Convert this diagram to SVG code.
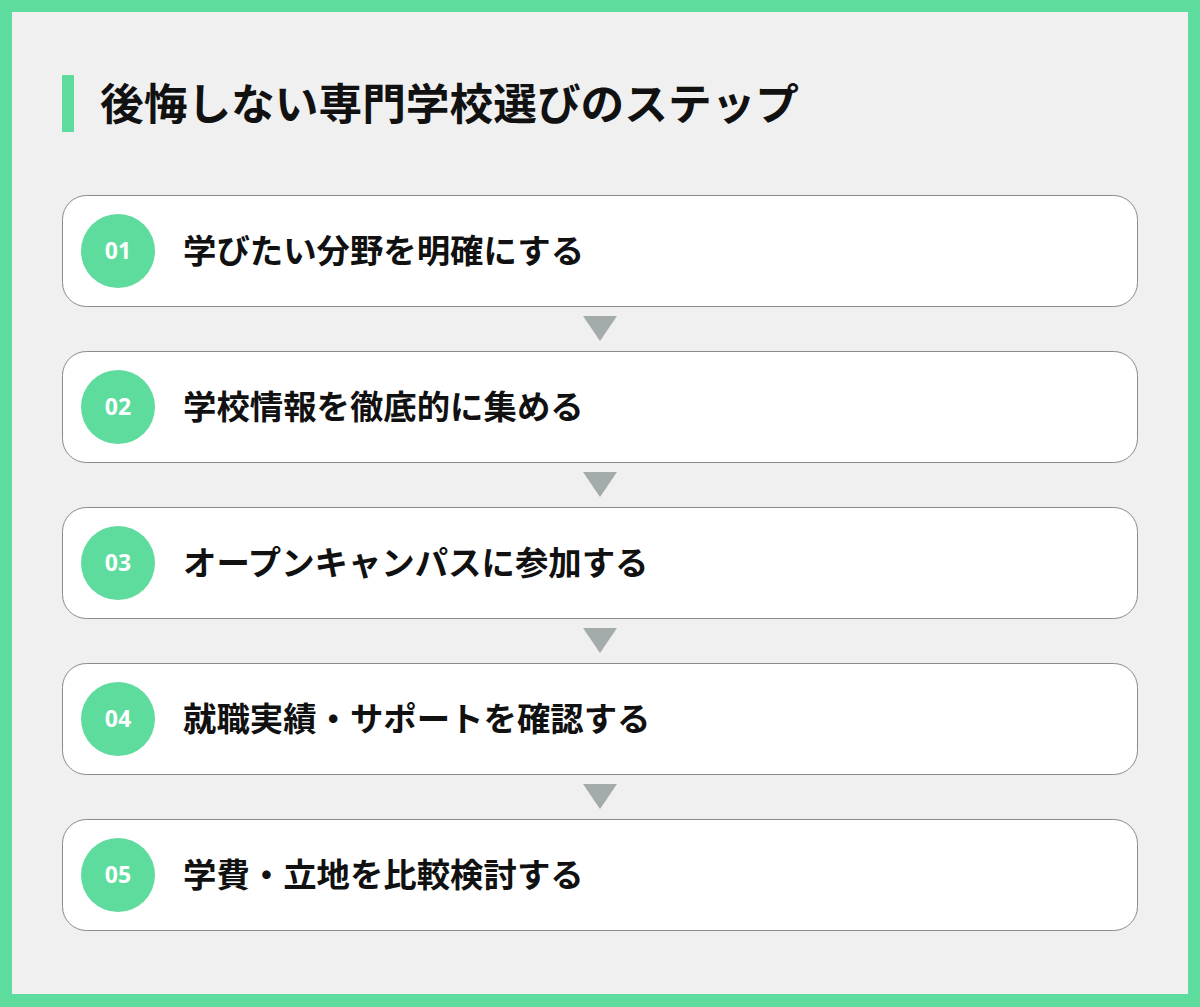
<svg xmlns="http://www.w3.org/2000/svg" width="1200" height="1007" viewBox="0 0 1200 1007">
<style>
.card{fill:#ffffff;stroke:#8a8a8a;stroke-width:1}
.dot{fill:#5edc9e}
.num{fill:#ffffff;font-family:"Noto Sans","Liberation Sans",sans-serif;font-weight:700;font-size:23px;text-anchor:middle}
.lbl{fill:#111111;font-family:"Noto Sans CJK JP","Noto Sans",sans-serif;font-weight:700;font-size:33.4px}
.arr{fill:#a3acab}
</style>
<rect x="0" y="0" width="1200" height="1007" fill="#5edc9e"/>
<rect x="12" y="12" width="1176" height="982" fill="#f0f0f0"/>
<g id="title">
<rect x="62" y="75" width="12" height="57" fill="#5edc9e"/>
<text x="100" y="120" font-family="'Noto Sans CJK JP','Noto Sans',sans-serif" font-weight="700" font-size="43.7" fill="#111111">後悔しない専門学校選びのステップ</text>
</g>
<g id="connectors">
<polygon class="arr" points="583,316 617,316 600,341"/>
<polygon class="arr" points="583,472 617,472 600,497"/>
<polygon class="arr" points="583,628 617,628 600,653"/>
<polygon class="arr" points="583,784 617,784 600,809"/>
</g>
<g id="step1">
<rect class="card" x="62.5" y="195.5" width="1075" height="111" rx="24"/>
<circle class="dot" cx="118" cy="251" r="37"/>
<text class="num" x="118" y="259">01</text>
<text class="lbl" x="183" y="263">学びたい分野を明確にする</text>
</g>
<g id="step2">
<rect class="card" x="62.5" y="351.5" width="1075" height="111" rx="24"/>
<circle class="dot" cx="118" cy="407" r="37"/>
<text class="num" x="118" y="415">02</text>
<text class="lbl" x="183" y="419">学校情報を徹底的に集める</text>
</g>
<g id="step3">
<rect class="card" x="62.5" y="507.5" width="1075" height="111" rx="24"/>
<circle class="dot" cx="118" cy="563" r="37"/>
<text class="num" x="118" y="571">03</text>
<text class="lbl" x="183" y="575">オープンキャンパスに参加する</text>
</g>
<g id="step4">
<rect class="card" x="62.5" y="663.5" width="1075" height="111" rx="24"/>
<circle class="dot" cx="118" cy="719" r="37"/>
<text class="num" x="118" y="727">04</text>
<text class="lbl" x="183" y="731">就職実績・サポートを確認する</text>
</g>
<g id="step5">
<rect class="card" x="62.5" y="819.5" width="1075" height="111" rx="24"/>
<circle class="dot" cx="118" cy="875" r="37"/>
<text class="num" x="118" y="883">05</text>
<text class="lbl" x="183" y="887">学費・立地を比較検討する</text>
</g>
</svg>
